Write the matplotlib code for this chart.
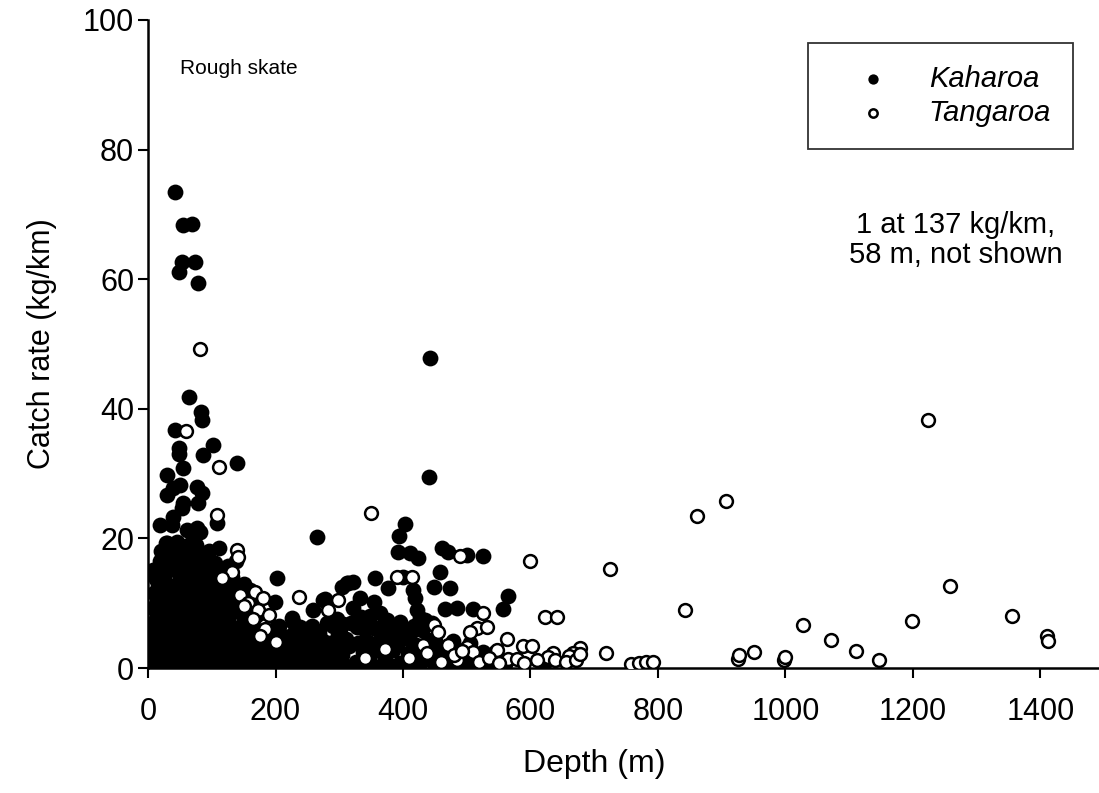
import matplotlib
matplotlib.use("Agg")
import matplotlib.pyplot as plt

plt.rcParams['font.family'] = ['Liberation Sans', 'DejaVu Sans']

# Kaharoa tows: depth (m), catch rate (kg/km)
kah_depth = [
    42, 55, 69, 53, 74, 49, 78,
    64, 83, 84, 42, 49, 48, 102, 86, 140, 55, 30, 50, 39, 30, 77, 85, 79,
    55, 53, 108, 39, 38, 19, 82, 71, 61, 77,
    265, 202, 199, 259, 275, 440, 443,
    403, 393, 392, 411, 424, 461, 471, 500, 526, 458, 448, 474, 356, 312,
    322, 400, 377, 278, 333, 322, 354, 364, 419, 422, 565, 557, 466, 485,
    510, 435, 228, 239, 298, 286, 328, 372, 396, 304, 301, 341, 375, 391,
    385, 427, 226, 623, 314, 416, 14, 30,
    # shallow cluster
    28, 45, 60, 75, 95, 35,
    18, 40, 55, 70, 88, 105, 125, 138,
    12, 25, 48, 62, 80, 98, 115, 132, 150,
    10, 22, 36, 52, 68, 85, 102, 120, 138, 155, 168,
    8, 20, 33, 46, 60, 75, 90, 108, 124, 142, 160, 178,
    6, 18, 30, 44, 57, 72, 86, 100, 116, 130, 146, 162, 180, 195,
    5, 16, 28, 40, 53, 66, 80, 95, 110, 125, 140, 155, 170, 186, 205, 220,
    4, 14, 26, 38, 50, 63, 77, 91, 104, 118, 132, 147, 162, 177, 192, 207, 222,
    20, 52, 68, 85, 112,
    8, 30, 45, 65, 78, 92, 110, 122,
    16, 30, 44, 58, 74, 92, 108, 128, 145, 160,
    14, 28, 42, 56, 70, 82, 96, 114, 130, 148, 170,
    12, 26, 38, 52, 66, 80, 94, 112, 126, 152, 170, 188, 205,
    10, 22, 36, 48, 62, 76, 88, 104, 120, 136, 150, 166, 178, 198, 212, 228,
    9, 22, 34, 46, 58, 72, 86, 100, 114, 128, 142, 156, 170, 184, 198, 214, 228,
    10, 30, 45, 70, 84, 98, 125, 140, 155, 170, 185, 200, 215,
    # deeper band near the bottom
    235, 248, 255, 268, 280, 292, 305, 315, 326, 338, 350, 360, 372, 384,
    395, 408, 420, 432, 445, 456, 468, 480, 492, 505, 518, 530, 545, 560,
    240, 262, 275, 310, 318, 345, 355, 365, 402, 412, 440, 250, 290,
    238, 262, 285, 300, 320, 344, 366, 378, 402, 425, 450, 474, 498, 510,
    538, 552,
    245, 260, 272, 298, 330, 342, 355, 366, 390, 414, 425, 438, 450, 462,
    475, 486, 498, 512, 525,
    258, 268, 280, 296, 306, 334, 348, 362, 380, 398, 418, 430, 446, 478, 505,
]
kah_rate = [
    73.5, 68.4, 68.5, 62.7, 62.7, 61.1, 59.4,
    41.8, 39.5, 38.3, 36.7, 34.0, 33.0, 34.4, 32.9, 31.6, 30.9, 29.8, 28.2,
    27.8, 26.7, 27.9, 27.0, 25.5,
    25.5, 24.7, 22.4, 23.3, 22.1, 22.1, 21.0, 20.2, 21.3, 21.6,
    20.2, 13.9, 10.2, 9.0, 10.5, 29.5, 47.8,
    22.2, 20.4, 17.9, 17.7, 17.0, 18.5, 17.9, 17.4, 17.3, 14.8, 12.5, 12.3,
    13.9, 13.1,
    13.3, 14.0, 12.3, 10.6, 10.8, 9.2, 10.2, 8.5, 10.8, 9.0, 11.1, 9.1, 9.1,
    9.3,
    9.1, 7.4, 7.1, 6.3, 5.1, 3.9, 6.3, 6.6, 7.1, 12.5, 5.4, 5.9, 7.4, 6.3,
    4.3, 7.7, 7.7, 0.9, 13.1, 12.0, 10.2, 19.3,
    19.3, 19.5, 18.8, 19.0, 18.0, 17.8,
    16.5, 16.2, 16.8, 16.0, 16.5, 16.2, 15.8, 16.5,
    13.8, 14.2, 13.5, 14.4, 13.8, 14.0, 13.6, 14.1, 13.0,
    11.5, 11.2, 11.8, 11.0, 11.6, 11.3, 11.7, 11.1, 11.5, 11.0, 10.5,
    9.2, 8.8, 9.4, 8.7, 9.1, 8.6, 9.3, 8.9, 9.2, 8.7, 8.4, 8.2,
    6.7, 6.2, 6.8, 6.4, 6.9, 6.1, 6.6, 6.3, 6.8, 6.2, 6.5, 6.0, 5.8, 5.4,
    4.2, 3.8, 4.5, 3.9, 4.4, 3.7, 4.3, 3.8, 4.1, 3.6, 4.4, 3.9, 4.2, 3.7,
    4.0, 3.5,
    1.6, 1.2, 1.8, 1.1, 1.7, 1.0, 1.5, 1.2, 1.8, 1.0, 1.6, 1.1, 1.5, 0.9,
    1.6, 1.0, 1.4,
    18.0, 18.2, 17.5, 17.8, 18.5,
    15.2, 15.3, 15.0, 15.5, 15.1, 15.4, 15.0, 14.6,
    12.6, 12.8, 12.4, 12.7, 12.5, 12.8, 12.4, 12.6, 12.3, 12.0,
    10.1, 10.3, 10.0, 10.4, 10.0, 10.2, 10.1, 10.3, 10.0, 9.8, 9.7,
    7.6, 7.9, 7.5, 7.8, 7.6, 7.9, 7.5, 7.7, 7.4, 7.6, 7.2, 7.0, 6.5,
    5.3, 5.1, 5.4, 5.0, 5.2, 5.4, 5.1, 5.3, 5.0, 5.3, 5.1, 5.0, 4.8, 5.0,
    4.9, 5.2,
    2.8, 2.6, 3.0, 2.7, 2.9, 2.6, 3.0, 2.7, 2.9, 2.6, 2.9, 2.7, 2.9, 2.5,
    2.8, 2.6, 3.0,
    0.4, 0.5, 0.3, 0.5, 0.4, 0.5, 0.4, 0.3, 0.5, 0.4, 0.5, 0.3, 0.5,
    2.1, 0.8, 3.2, 1.5, 2.6, 0.7, 2.0, 3.4, 1.0, 2.4, 0.6, 3.0, 1.6, 2.8,
    0.8, 2.2, 3.5, 1.2, 2.6, 0.7, 1.9, 3.0, 1.0, 2.2, 0.8, 1.6, 1.0, 0.6,
    4.6, 5.0, 4.2, 4.5, 7.0, 4.0, 6.2, 4.8, 4.6, 5.5, 4.4, 6.0, 6.5,
    0.4, 0.3, 0.5, 0.4, 0.3, 0.4, 0.3, 0.5, 0.4, 0.3, 0.4, 0.3, 0.4, 0.5,
    0.3, 0.4,
    3.0, 2.0, 3.6, 3.0, 3.8, 2.0, 2.6, 4.0, 3.5, 3.0, 1.8, 3.4, 4.2, 2.8,
    1.8, 2.5, 1.8, 1.2, 2.4,
    6.5, 5.4, 7.0, 7.5, 6.8, 7.8, 8.0, 6.2, 5.6, 5.0, 6.5, 5.8, 7.0, 4.2, 3.8,
]

# Tangaroa tows: depth (m), catch rate (kg/km)
tan_depth = [
    82, 60, 111, 108, 140, 141, 132, 116, 144, 168, 180, 157, 173, 184, 184,
    237, 283, 298, 350, 391, 414, 490, 526, 600, 623, 642, 563, 588, 603,
    678, 667, 636, 628, 565, 579, 448, 455, 516, 532, 505, 545, 500, 510,
    432, 438, 660, 548, 150, 165, 175, 190, 200,
    340, 372, 410, 460, 470, 485, 520, 535, 550, 590, 610, 480, 492,
    1224, 906, 862, 725, 843, 1028, 1258, 1355, 1199, 1072, 1110, 1146,
    1410, 1412, 997, 1000, 926, 927, 950, 719, 757, 770, 781, 792,
    639, 656, 672, 678,
]
tan_rate = [
    49.2, 36.6, 31.0, 23.6, 18.2, 17.1, 14.8, 13.9, 11.3, 11.7, 10.8, 10.0,
    9.0, 6.6, 6.0,
    11.0, 9.0, 10.5, 23.9, 14.0, 14.0, 17.3, 8.5, 16.5, 7.9, 7.9, 4.5, 3.4,
    3.4,
    3.1, 2.3, 2.3, 1.7, 1.4, 1.4, 6.6, 5.6, 6.2, 6.3, 5.6, 2.5, 3.3, 2.5,
    3.5, 2.3, 1.8, 2.8, 9.5, 7.5, 5.0, 8.2, 4.0,
    1.5, 3.0, 1.5, 1.0, 3.5, 1.2, 1.0, 1.5, 0.8, 0.8, 1.2, 2.0, 2.6,
    38.3, 25.7, 23.4, 15.3, 9.0, 6.7, 12.6, 8.0, 7.2, 4.3, 2.7, 1.3,
    4.9, 4.1, 1.2, 1.7, 1.4, 2.0, 2.4, 2.3, 0.6, 0.8, 0.9, 0.9,
    1.2, 1.0, 1.3, 2.2,
]

x_ticks = [0, 200, 400, 600, 800, 1000, 1200, 1400]
y_ticks = [0, 20, 40, 60, 80, 100]

fig = plt.figure(figsize=(10.99, 7.93), dpi=100)
ax = fig.add_axes([0.1347, 0.1576, 0.87, 0.8172])

ax.scatter(kah_depth, kah_rate, s=130, c='black', linewidths=0,
           label='Kaharoa', zorder=2)
ax.scatter(tan_depth, tan_rate, s=85, facecolors='white', edgecolors='black',
           linewidths=1.8, label='Tangaroa', zorder=3)

ax.set_xlim(0, 1500)
ax.set_ylim(0, 100)
ax.set_xticks(x_ticks)
ax.set_yticks(y_ticks)
ax.tick_params(direction='out', length=7, width=1.5, labelsize=22)
ax.tick_params(axis='x', pad=14)
ax.tick_params(axis='y', pad=3)

for side in ['top', 'right']:
    ax.spines[side].set_visible(False)
for side in ['left', 'bottom']:
    ax.spines[side].set_linewidth(1.8)

ax.set_xlabel('Depth (m)', fontsize=23)
ax.xaxis.set_label_coords(1400 / 1500 / 2, -0.125)
ax.set_ylabel('Catch rate (kg/km)', fontsize=22)
ax.yaxis.set_label_coords(-0.095, 0.5)

ax.text(0.033, 0.925, 'Rough skate', transform=ax.transAxes, fontsize=15,
        ha='left', va='center')
ax.text(0.845, 0.66, '1 at 137 kg/km,\n58 m, not shown',
        transform=ax.transAxes, fontsize=21, ha='center', va='center',
        linespacing=1.1)

leg = ax.legend(loc='upper right', bbox_to_anchor=(1073 / 1099, 1 - 43 / 793),
                bbox_transform=fig.transFigure,
                fontsize=21, frameon=True, fancybox=False, edgecolor='black',
                markerscale=0.65, handlelength=3.0, handletextpad=0.4,
                borderpad=0.75, labelspacing=0.2, borderaxespad=0)
leg.get_frame().set_linewidth(1.3)
for t in leg.get_texts():
    t.set_fontstyle('italic')

fig.savefig('out.png', dpi=100)
